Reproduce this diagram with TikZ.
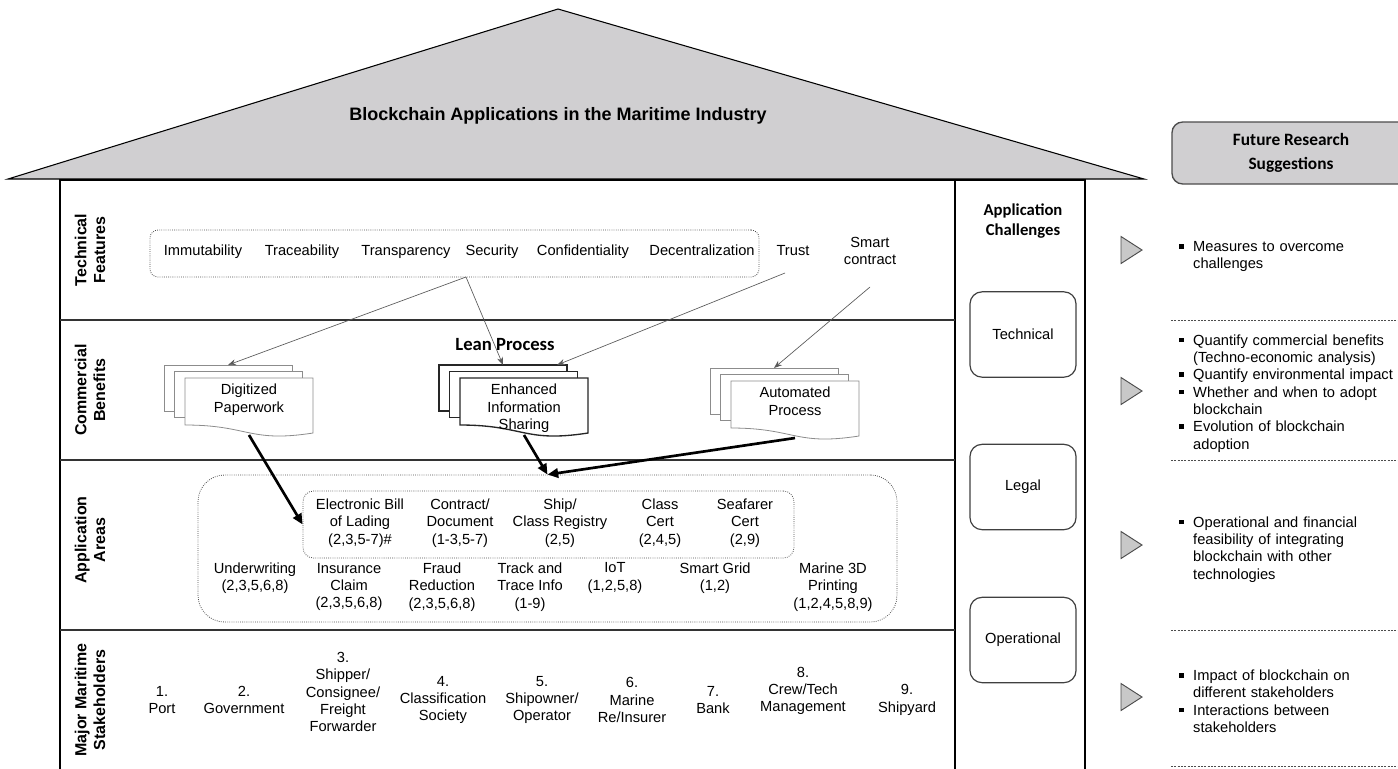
\documentclass[tikz,border=0pt]{standalone}
\usepackage{fontspec}
\setmainfont{Liberation Sans}
\newfontfamily\calib{Carlito}
\usetikzlibrary{arrows.meta}

\definecolor{roofgray}{RGB}{208,207,209}
\definecolor{tipgray}{RGB}{200,200,200}

\newcommand{\bitem}[1]{\par\noindent\hangindent=0.95em\hangafter=1\makebox[0.95em][l]{\rule[0.2em]{0.3em}{0.3em}}#1\par}

\newcommand{\docstack}[4]{%
  \begin{scope}[shift={#2}]
    \draw[#4] (-21,-13) rectangle (107,33);
    \draw[#4] (-10.5,-6.5) rectangle (117.5,39.5);
    \draw[#4] (0,0) -- (128,0) -- (128,55) .. controls (64,65) and (64,47) .. (0,47) -- cycle;
    \node[anchor=north] (#1) at (64,6) {#3};
    \coordinate (#1-top) at (43,-13);
    \coordinate (#1-topr) at (97,-13);
    \coordinate (#1-bot) at (64,57);
  \end{scope}}

\begin{document}
\begin{tikzpicture}[x=0.75pt, y=-0.75pt,
  every node/.style={font=\fontsize{11}{13}\selectfont, inner sep=0pt, align=center},
  rowlabel/.style={rotate=90, font=\fontsize{12}{14}\selectfont\bfseries},
  feature/.style={anchor=base},
  dotbox/.style={draw=black!70, densely dotted, line width=0.6pt, rounded corners=#1},
  dotbox/.default=6pt,
  graypage/.style={draw=black!45, fill=white, line width=0.6pt},
  darkpage/.style={draw=black!85, fill=white, line width=1pt},
  thinarrow/.style={draw=black!65, line width=0.5pt, -{Stealth[length=6pt,width=4.5pt]}},
  thickarrow/.style={line width=2pt, -{Triangle[length=8pt,width=7pt]}},
  chbox/.style={draw=black!75, line width=0.9pt, rounded corners=9pt, minimum width=79.5pt, minimum height=64pt},
  bullets/.style={anchor=west, align=left, text width=175pt}]
\useasboundingbox (0,0) rectangle (1398,768);
\clip (0,0) rectangle (1398,768);

\draw[fill=roofgray, line width=0.8pt] (8,179) -- (558,9) -- (1144,179) -- cycle;
\node[font=\fontsize{13.5}{16}\selectfont\bfseries] (title) at (558,116) {Blockchain Applications in the Maritime Industry};

\draw[line width=1pt] (60,772) -- (60,180) -- (1085,180) -- (1085,772);
\draw[line width=1pt] (955,180) -- (955,772);
\foreach \y in {320,460,630} \draw[line width=1pt, black!80] (60,\y) -- (955,\y);

\node[rowlabel] (lbltech) at (90,250) {Technical\\Features};
\node[rowlabel] (lblcomm) at (90,390) {Commercial\\Benefits};
\node[rowlabel] (lblarea) at (90,540) {Application\\Areas};
\node[rowlabel] (lblstake) at (90,700) {Major Maritime\\Stakeholders};

\node[dotbox, minimum width=456.75pt, minimum height=35.25pt] (techbox) at (454.5,253.5) {};
\node[feature] (imm) at (203,255) {Immutability};
\node[feature] (trc) at (302,255) {Traceability};
\node[feature] (trp) at (406,255) {Transparency};
\node[feature] (sec) at (492,255) {Security};
\node[feature] (conf) at (583,255) {Confidentiality};
\node[feature] (decen) at (702,255) {Decentralization};
\node[feature] (trust) at (793,255) {Trust};
\node (smart) at (870,251) {Smart\\contract};
\coordinate (secpt) at (466,277);

\node[font=\calib\bfseries\fontsize{14}{16}\selectfont] (lean) at (505,345) {Lean Process};
\docstack{dig}{(185,378)}{Digitized\\Paperwork}{graypage}
\docstack{enh}{(460,378)}{Enhanced\\Information\\Sharing}{darkpage}
\docstack{auto}{(731,381)}{Automated\\Process}{graypage}

\draw[thinarrow] (secpt) -- (dig-top);
\draw[thinarrow] (secpt) -- (enh-top);
\draw[thinarrow] ([shift={(-8,18)}]trust.base) -- (enh-topr);
\draw[thinarrow] ([shift={(0,36)}]smart.center) -- (auto-top);

\node[dotbox=20pt, minimum width=524.25pt, minimum height=110.25pt] (areas) at (547.5,548.5) {};
\node[dotbox=8pt, minimum width=368.25pt, minimum height=50.25pt] (core) at (548.5,524.5) {};
\node (ebl) at (360,523) {Electronic Bill\\of Lading\\(2,3,5-7)\#};
\node (contr) at (460,523) {Contract/\\Document\\(1-3,5-7)};
\node (reg) at (560,523) {Ship/\\Class Registry\\(2,5)};
\node (ccert) at (660,523) {Class\\Cert\\(2,4,5)};
\node (scert) at (745,523) {Seafarer\\Cert\\(2,9)};
\node (uw) at (255,578) {Underwriting\\(2,3,5,6,8)};
\node (claim) at (349,587) {Insurance\\Claim\\(2,3,5,6,8)};
\node (fraud) at (442,587) {Fraud\\Reduction\\(2,3,5,6,8)};
\node (track) at (530,587) {Track and\\Trace Info\\(1-9)};
\node (iot) at (615,578) {IoT\\(1,2,5,8)};
\node (grid) at (715,578) {Smart Grid\\(1,2)};
\node (print) at (833,587) {Marine 3D\\Printing\\(1,2,4,5,8,9)};

\draw[thickarrow] (dig-bot) -- (core.west);
\draw[thickarrow] (enh-bot) -- (areas.north);
\draw[thickarrow] (auto-bot) -- (areas.north);

\node (port) at (162,700) {1.\\Port};
\node (gov) at (244,700) {2.\\Government};
\node (shipper) at (343,692) {3.\\Shipper/\\Consignee/\\Freight\\Forwarder};
\node (class) at (443,700) {4.\\Classification\\Society};
\node (owner) at (542,700) {5.\\Shipowner/\\Operator};
\node (insurer) at (632,700) {6.\\Marine\\Re/Insurer};
\node (bank) at (713,700) {7.\\Bank};
\node (crew) at (803,691) {8.\\Crew/Tech\\Management};
\node (yard) at (907,700) {9.\\Shipyard};

\node[font=\calib\bfseries\fontsize{12.5}{15}\selectfont] (chall) at (1023,221) {Application\\Challenges};
\node[chbox] (techch) at (1023,334.5) {Technical};
\node[chbox] (legal) at (1023,487) {Legal};
\node[chbox] (oper) at (1023,640) {Operational};

\node[draw=black!70, fill=roofgray, line width=1pt, rounded corners=8pt, minimum width=178.5pt, minimum height=46.5pt, font=\calib\bfseries\fontsize{13}{18}\selectfont] (futhdr) at (1291,153) {Future Research\\Suggestions};
\foreach \y in {250,391,545,697} \draw[fill=tipgray, draw=black!70, line width=0.7pt] (1121,\y-13.5) -- (1142,\y) -- (1121,\y+13.5) -- cycle;
\foreach \y in {320,460,630,766} \draw[black!70, line width=0.6pt, dash pattern=on 1.5pt off 1pt] (1171,\y) -- (1398,\y);

\node[bullets] (fr1) at (1179,253) {\bitem{Measures to overcome\newline challenges}};
\node[bullets] (fr2) at (1179,390) {\bitem{Quantify commercial benefits\newline (Techno-economic analysis)}\bitem{Quantify environmental impact}\bitem{Whether and when to adopt\newline blockchain}\bitem{Evolution of blockchain\newline adoption}};
\node[bullets] (fr3) at (1179,546) {\bitem{Operational and financial\newline feasibility of integrating\newline blockchain with other\newline technologies}};
\node[bullets] (fr4) at (1179,698) {\bitem{Impact of blockchain on\newline different stakeholders}\bitem{Interactions between\newline stakeholders}};
\end{tikzpicture}
\end{document}
